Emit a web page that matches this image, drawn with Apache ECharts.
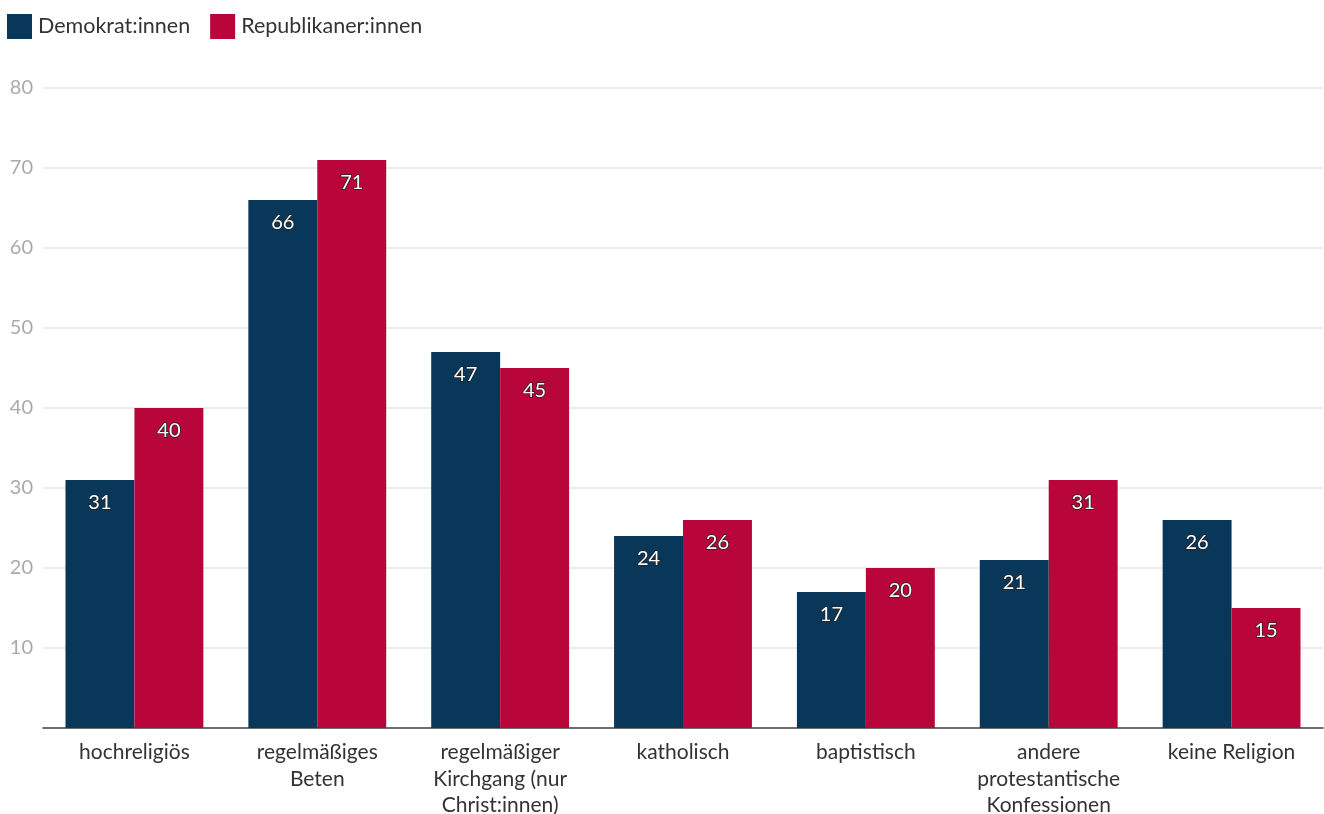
<!DOCTYPE html>
<html><head><meta charset="utf-8">
<script src="https://cdn.jsdelivr.net/npm/echarts@6/dist/echarts.min.js"></script>
<style>html,body{margin:0;padding:0;background:#fff}#c{width:1324px;height:814px}</style>
</head><body><div id="c"></div>
<script>
const categories = ["hochreligiös","regelmäßiges\nBeten","regelmäßiger\nKirchgang (nur\nChrist:innen)","katholisch","baptistisch","andere\nprotestantische\nKonfessionen","keine Religion"];
const seriesNames = ["Demokrat:innen","Republikaner:innen"];
const demValues = [31,66,47,24,17,21,26];
const repValues = [40,71,45,26,20,31,15];
const yTicks = [0,10,20,30,40,50,60,70,80];

const font = "Lato";
const chart = echarts.init(document.getElementById('c'));
const lbl = {show:true, position:'insideTop', distance:13, color:'#fff', fontFamily:font, fontSize:20,
  textBorderColor:'#222', textBorderWidth:1.5};
chart.setOption({
  animation:false,
  textStyle:{fontFamily:font},
  legend:{left:2, top:9, itemWidth:25, itemHeight:25, itemGap:20, icon:'rect',
    textStyle:{fontFamily:font, fontSize:21.5, color:'#333', padding:[0,0,0,1]},
    data:seriesNames},
  grid:{left:43, right:1, top:88, bottom:86, containLabel:false, outerBoundsMode:'none'},
  xAxis:{type:'category', data:categories,
    axisLine:{lineStyle:{color:'#444', width:1.5}}, axisTick:{show:false},
    axisLabel:{fontFamily:font, fontSize:21, color:'#333', lineHeight:26.5, margin:11, interval:0}},
  yAxis:{type:'value', min:yTicks[0], max:yTicks[yTicks.length-1], interval:10,
    axisLine:{show:false}, axisTick:{show:false},
    splitLine:{lineStyle:{color:'#e6e6e6', width:1.5}},
    axisLabel:{fontFamily:font, fontSize:20, color:'#aaa', margin:10,
      formatter:v=> v===0 ? '' : String(v)}},
  series:[
    {name:seriesNames[0], type:'bar', data:demValues, itemStyle:{color:'#08375a'}, barGap:'0%', barCategoryGap:'24.6%', label:lbl},
    {name:seriesNames[1], type:'bar', data:repValues, itemStyle:{color:'#b8063b'}, barGap:'0%', barCategoryGap:'24.6%', label:lbl}
  ]
});
</script></body></html>
